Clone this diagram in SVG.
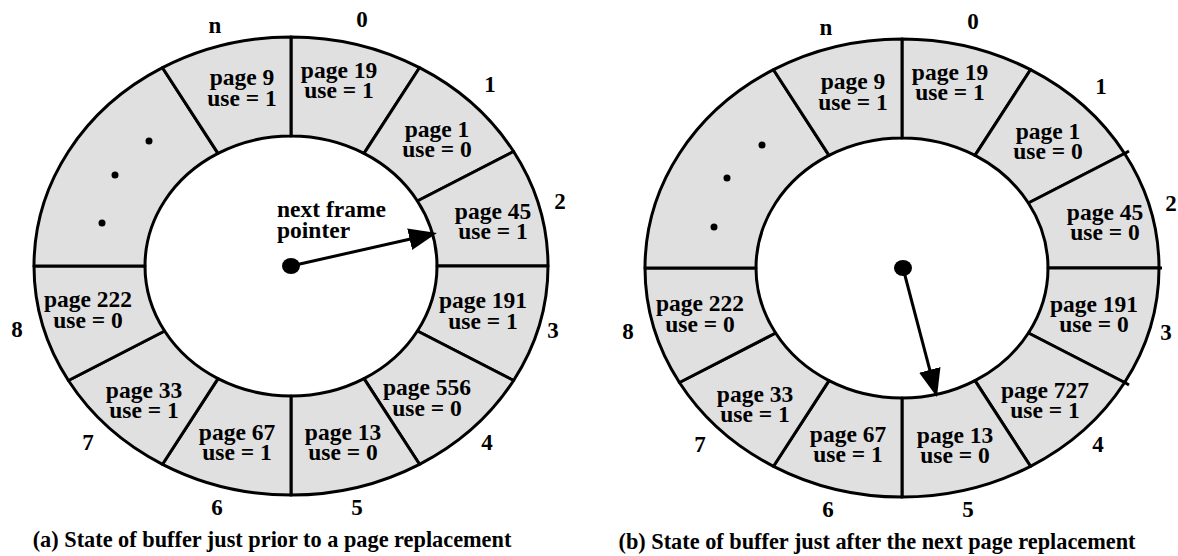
<svg xmlns="http://www.w3.org/2000/svg" width="1178" height="556" viewBox="0 0 1178 556">
  <defs>
    <style>
      .frame { fill: #e0e0e0; stroke: #000; stroke-width: 3; stroke-linejoin: round; }
      .lbl { font-family: "Liberation Serif", "Times New Roman", serif; font-weight: bold; font-size: 23.5px; fill: #000; text-anchor: middle; }
      .idx { font-family: "Liberation Serif", "Times New Roman", serif; font-weight: bold; font-size: 23px; fill: #000; text-anchor: middle; }
      .cap { font-family: "Liberation Serif", "Times New Roman", serif; font-weight: bold; font-size: 22.3px; fill: #000; text-anchor: middle; }
      .note { font-family: "Liberation Serif", "Times New Roman", serif; font-weight: bold; font-size: 23.5px; fill: #000; }
      .dot { fill: #000; }
      .ptr { stroke: #000; stroke-width: 3; fill: none; marker-end: url(#arrowhead); }
      .tick { stroke: #000; stroke-width: 3; }
    </style>
    <marker id="arrowhead" markerUnits="userSpaceOnUse" markerWidth="30" markerHeight="24" refX="18" refY="11" orient="auto">
      <path d="M0,0 L28,11 L0,22 Z" fill="#000"/>
    </marker>
  </defs>

  <rect width="1178" height="556" fill="#fff"/>

  <!-- (a) buffer ring before replacement; centre (291,266), outer 257x229, inner 146x130 -->
  <g id="buffer-a">
    <g id="a-frame-0">
      <path class="frame" d="M291,37 A257,229 0 0 1 419.5,67.7 L364,153.4 A146,130 0 0 0 291,136 Z"/>
      <text class="lbl" x="339" y="78">page 19</text><text class="lbl" x="339" y="98">use = 1</text>
    </g>
    <g id="a-frame-1">
      <path class="frame" d="M419.5,67.7 A257,229 0 0 1 513.6,151.5 L417.4,201 A146,130 0 0 0 364,153.4 Z"/>
      <text class="lbl" x="437" y="137">page 1</text><text class="lbl" x="437" y="157">use = 0</text>
    </g>
    <g id="a-frame-2">
      <path class="frame" d="M513.6,151.5 A257,229 0 0 1 548,266 L437,266 A146,130 0 0 0 417.4,201 Z"/>
      <text class="lbl" x="493" y="219">page 45</text><text class="lbl" x="493" y="239">use = 1</text>
    </g>
    <g id="a-frame-3">
      <path class="frame" d="M548,266 A257,229 0 0 1 513.6,380.5 L417.4,331 A146,130 0 0 0 437,266 Z"/>
      <text class="lbl" x="483" y="308">page 191</text><text class="lbl" x="483" y="329">use = 1</text>
    </g>
    <g id="a-frame-4">
      <path class="frame" d="M513.6,380.5 A257,229 0 0 1 419.5,464.3 L364,378.6 A146,130 0 0 0 417.4,331 Z"/>
      <text class="lbl" x="427" y="395">page 556</text><text class="lbl" x="427" y="416">use = 0</text>
    </g>
    <g id="a-frame-5">
      <path class="frame" d="M419.5,464.3 A257,229 0 0 1 291,495 L291,396 A146,130 0 0 0 364,378.6 Z"/>
      <text class="lbl" x="343" y="440">page 13</text><text class="lbl" x="343" y="460">use = 0</text>
    </g>
    <g id="a-frame-6">
      <path class="frame" d="M291,495 A257,229 0 0 1 162.5,464.3 L218,378.6 A146,130 0 0 0 291,396 Z"/>
      <text class="lbl" x="237" y="440">page 67</text><text class="lbl" x="237" y="460">use = 1</text>
    </g>
    <g id="a-frame-7">
      <path class="frame" d="M162.5,464.3 A257,229 0 0 1 68.4,380.5 L164.6,331 A146,130 0 0 0 218,378.6 Z"/>
      <text class="lbl" x="144" y="398">page 33</text><text class="lbl" x="144" y="418">use = 1</text>
    </g>
    <g id="a-frame-8">
      <path class="frame" d="M68.4,380.5 A257,229 0 0 1 34,266 L145,266 A146,130 0 0 0 164.6,331 Z"/>
      <text class="lbl" x="88" y="307">page 222</text><text class="lbl" x="88" y="328">use = 0</text>
    </g>
    <g id="a-frames-rest">
      <path class="frame" d="M34,266 A257,229 0 0 1 162.5,67.7 L218,153.4 A146,130 0 0 0 145,266 Z"/>
      <circle class="dot" cx="149" cy="141" r="3.5"/>
      <circle class="dot" cx="115" cy="175" r="3.5"/>
      <circle class="dot" cx="102" cy="223" r="3.5"/>
    </g>
    <g id="a-frame-n">
      <path class="frame" d="M162.5,67.7 A257,229 0 0 1 291,37 L291,136 A146,130 0 0 0 218,153.4 Z"/>
      <text class="lbl" x="242" y="85">page 9</text><text class="lbl" x="242" y="106">use = 1</text>
    </g>
    <g id="a-indices">
      <text class="idx" x="215" y="33">n</text>
      <text class="idx" x="362" y="27">0</text>
      <text class="idx" x="490" y="92">1</text>
      <text class="idx" x="560" y="209">2</text>
      <text class="idx" x="553" y="338">3</text>
      <text class="idx" x="487" y="450">4</text>
      <text class="idx" x="357" y="515">5</text>
      <text class="idx" x="217" y="515">6</text>
      <text class="idx" x="88" y="450">7</text>
      <text class="idx" x="17" y="337">8</text>
    </g>
    <text class="note" x="277" y="217">next frame</text>
    <text class="note" x="277" y="238">pointer</text>
    <text class="cap" x="272" y="547">(a) State of buffer just prior to a page replacement</text>
  </g>

  <!-- (b) buffer ring after replacement, same geometry shifted -->
  <g id="buffer-b" transform="translate(611,2)">
    <g id="b-frame-0">
      <path class="frame" d="M291,37 A257,229 0 0 1 419.5,67.7 L364,153.4 A146,130 0 0 0 291,136 Z"/>
      <text class="lbl" x="339" y="78">page 19</text><text class="lbl" x="339" y="98">use = 1</text>
    </g>
    <g id="b-frame-1">
      <path class="frame" d="M419.5,67.7 A257,229 0 0 1 513.6,151.5 L417.4,201 A146,130 0 0 0 364,153.4 Z"/>
      <text class="lbl" x="437" y="137">page 1</text><text class="lbl" x="437" y="157">use = 0</text>
    </g>
    <g id="b-frame-2">
      <path class="frame" d="M513.6,151.5 A257,229 0 0 1 548,266 L437,266 A146,130 0 0 0 417.4,201 Z"/>
      <text class="lbl" x="494" y="218">page 45</text><text class="lbl" x="494" y="238">use = 0</text>
    </g>
    <g id="b-frame-3">
      <path class="frame" d="M548,266 A257,229 0 0 1 513.6,380.5 L417.4,331 A146,130 0 0 0 437,266 Z"/>
      <text class="lbl" x="483" y="310">page 191</text><text class="lbl" x="483" y="330">use = 0</text>
    </g>
    <g id="b-frame-4">
      <path class="frame" d="M513.6,380.5 A257,229 0 0 1 419.5,464.3 L364,378.6 A146,130 0 0 0 417.4,331 Z"/>
      <text class="lbl" x="434" y="396">page 727</text><text class="lbl" x="434" y="416">use = 1</text>
    </g>
    <g id="b-frame-5">
      <path class="frame" d="M419.5,464.3 A257,229 0 0 1 291,495 L291,396 A146,130 0 0 0 364,378.6 Z"/>
      <text class="lbl" x="344" y="441">page 13</text><text class="lbl" x="344" y="461">use = 0</text>
    </g>
    <g id="b-frame-6">
      <path class="frame" d="M291,495 A257,229 0 0 1 162.5,464.3 L218,378.6 A146,130 0 0 0 291,396 Z"/>
      <text class="lbl" x="237" y="440">page 67</text><text class="lbl" x="237" y="460">use = 1</text>
    </g>
    <g id="b-frame-7">
      <path class="frame" d="M162.5,464.3 A257,229 0 0 1 68.4,380.5 L164.6,331 A146,130 0 0 0 218,378.6 Z"/>
      <text class="lbl" x="144" y="400">page 33</text><text class="lbl" x="144" y="420">use = 1</text>
    </g>
    <g id="b-frame-8">
      <path class="frame" d="M68.4,380.5 A257,229 0 0 1 34,266 L145,266 A146,130 0 0 0 164.6,331 Z"/>
      <text class="lbl" x="89" y="309">page 222</text><text class="lbl" x="89" y="330">use = 0</text>
    </g>
    <g id="b-frames-rest">
      <path class="frame" d="M34,266 A257,229 0 0 1 162.5,67.7 L218,153.4 A146,130 0 0 0 145,266 Z"/>
      <circle class="dot" cx="151" cy="143" r="3.5"/>
      <circle class="dot" cx="116" cy="176" r="3.5"/>
      <circle class="dot" cx="103" cy="225" r="3.5"/>
    </g>
    <g id="b-frame-n">
      <path class="frame" d="M162.5,67.7 A257,229 0 0 1 291,37 L291,136 A146,130 0 0 0 218,153.4 Z"/>
      <text class="lbl" x="242" y="87">page 9</text><text class="lbl" x="242" y="108">use = 1</text>
    </g>
    <!-- divider ends that run past the outer rim -->
    <line class="tick" x1="513" y1="152" x2="518" y2="149"/>
    <line class="tick" x1="547" y1="266" x2="551" y2="266"/>
    <line class="tick" x1="513" y1="380" x2="518" y2="383"/>
    <g id="b-indices">
      <text class="idx" x="215" y="33">n</text>
      <text class="idx" x="362" y="27">0</text>
      <text class="idx" x="490" y="92">1</text>
      <text class="idx" x="560" y="209">2</text>
      <text class="idx" x="555" y="338">3</text>
      <text class="idx" x="487" y="450">4</text>
      <text class="idx" x="357" y="515">5</text>
      <text class="idx" x="217" y="515">6</text>
      <text class="idx" x="89" y="450">7</text>
      <text class="idx" x="17" y="337">8</text>
    </g>
    <text class="cap" x="266" y="547">(b) State of buffer just after the next page replacement</text>
  </g>

  <!-- next-frame pointers -->
  <g id="connectors">
    <ellipse class="dot" cx="291" cy="266" rx="9" ry="8"/>
    <line class="ptr" x1="291" y1="266" x2="427.2" y2="235.2"/>
    <ellipse class="dot" cx="903" cy="268" rx="9" ry="8"/>
    <line class="ptr" x1="903" y1="268" x2="934.4" y2="387.3"/>
  </g>
</svg>
